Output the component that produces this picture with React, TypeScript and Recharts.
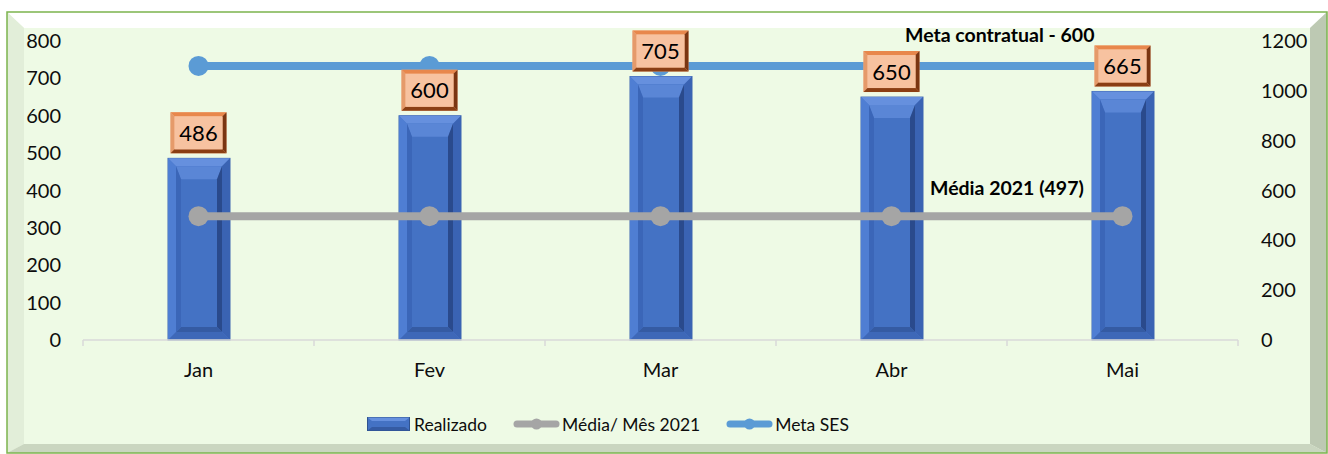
import React from "react";
import { Bar, ComposedChart, Line, LabelList, XAxis, YAxis } from "recharts";

const months = ["Jan", "Fev", "Mar", "Abr", "Mai"];
const realizado = [486, 600, 705, 650, 665];
const mediaMes2021 = [497, 497, 497, 497, 497];
const metaSes = [1100, 1100, 1100, 1100, 1100];
const leftTicks = [0, 100, 200, 300, 400, 500, 600, 700, 800];
const rightTicks = [0, 200, 400, 600, 800, 1000, 1200];

const data = months.map((m, i) => ({
  month: m,
  realizado: realizado[i],
  media: mediaMes2021[i],
  meta: metaSes[i],
}));

const FONT = "Lato, 'Open Sans', sans-serif";

function BevelBar(props: any) {
  const { x, y, width: w, height: h } = props;
  if (!h || h <= 0) return null;
  const b = 8;
  const ib = 5;
  const ix = x + b, iy = y + b, iw = w - 2 * b, ih = h - 2 * b;
  return (
    <g>
      <rect x={x} y={y} width={w} height={h} fill="#4A78CC" stroke="#3D64B0" strokeWidth={1} />
      <polygon points={`${x},${y} ${x + w},${y} ${x + w - b},${y + b} ${x + b},${y + b}`} fill="#6690DE" />
      <polygon points={`${x},${y} ${x + b},${y + b} ${x + b},${y + h - b} ${x},${y + h}`} fill="#4F7ED3" />
      <polygon points={`${x + w},${y} ${x + w},${y + h} ${x + w - b},${y + h - b} ${x + w - b},${y + b}`} fill="#3A63B3" />
      <polygon points={`${x},${y + h} ${x + w},${y + h} ${x + w - b},${y + h - b} ${x + b},${y + h - b}`} fill="#3E68B8" />
      <rect x={ix} y={iy} width={iw} height={ih} fill="#4472C4" />
      <polygon points={`${ix},${iy} ${ix + iw},${iy} ${ix + iw - ib},${iy + ib + 8} ${ix + ib},${iy + ib + 8}`} fill="#5A86D6" />
      <polygon points={`${ix + iw},${iy} ${ix + iw},${iy + ih} ${ix + iw - ib},${iy + ih - ib} ${ix + iw - ib},${iy + ib + 8}`} fill="#2A4A8C" />
      <polygon points={`${ix},${iy + ih} ${ix + iw},${iy + ih} ${ix + iw - ib},${iy + ih - ib} ${ix + ib},${iy + ih - ib}`} fill="#355BA3" />
      <polygon points={`${ix},${iy} ${ix + ib},${iy + ib + 8} ${ix + ib},${iy + ih - ib} ${ix},${iy + ih}`} fill="#3B66B8" />
    </g>
  );
}

function ValueBox(props: any) {
  const { x, y, value } = props;
  const w = 56, h = 41, b = 4;
  const bx = x - w / 2;
  const by = y - 5 - h;
  return (
    <g>
      <rect x={bx} y={by} width={w} height={h} fill="#F4B083" />
      <polygon points={`${bx},${by} ${bx + w},${by} ${bx + w - b},${by + b} ${bx + b},${by + b}`} fill="#E8874C" />
      <polygon points={`${bx},${by} ${bx + b},${by + b} ${bx + b},${by + h - b} ${bx},${by + h}`} fill="#E59A6A" />
      <polygon points={`${bx + w},${by} ${bx + w},${by + h} ${bx + w - b},${by + h - b} ${bx + w - b},${by + b}`} fill="#7A3512" />
      <polygon points={`${bx},${by + h} ${bx + w},${by + h} ${bx + w - b},${by + h - b} ${bx + b},${by + h - b}`} fill="#8A3E14" />
      <rect x={bx + b} y={by + b} width={w - 2 * b} height={h - 2 * b} fill="#F7C2A0" />
      <text x={x} y={by + h / 2 + 8} textAnchor="middle" fontFamily={FONT} fontSize={22} fill="#000">
        {value}
      </text>
    </g>
  );
}

function MonthTick(props: any) {
  const { x, y, payload, index } = props;
  const off = payload.offset || 0;
  const axisY = y - 20;
  return (
    <g>
      <line x1={x - off} y1={axisY} x2={x - off} y2={axisY + 6} stroke="#D9D9D9" strokeWidth={1.5} />
      {index === months.length - 1 && (
        <line x1={x + off} y1={axisY} x2={x + off} y2={axisY + 6} stroke="#D9D9D9" strokeWidth={1.5} />
      )}
      <text x={x} y={y + 17} textAnchor="middle" fontFamily={FONT} fontSize={20} fill="#0D0D0D">
        {payload.value}
      </text>
    </g>
  );
}

function LineSwatch({ color }: { color: string }) {
  return (
    <svg width={47} height={14} style={{ display: "block" }}>
      <line x1={4} y1={7} x2={43} y2={7} stroke={color} strokeWidth={7} strokeLinecap="round" />
      <circle cx={23.5} cy={7} r={5.5} fill={color} />
    </svg>
  );
}

export default function App() {
  const tickStyle = { fill: "#0D0D0D", fontSize: 20, fontFamily: FONT };
  return (
    <div>
      <svg width={1328} height={454} style={{ position: "absolute", left: 0, top: 0 }}>
        <rect x={7} y={12} width={1320} height={441} fill="#EEFAE5" />
        <polygon points="7,12 1327,12 1310,28 24,28" fill="#FFFFFF" />
        <polygon points="7,12 24,28 24,444 7,453" fill="#E2EED9" />
        <polygon points="1327,12 1327,453 1310,444 1310,28" fill="#BDC9B3" />
        <polygon points="7,453 1327,453 1310,444 24,444" fill="#CAD6C0" />
        <rect x={7} y={12} width={1320} height={441} fill="none" stroke="#7CB44E" strokeWidth={1.5} />
      </svg>
      <div style={{ position: "absolute", left: 0, top: 0 }}>
        <ComposedChart width={1328} height={454} data={data} margin={{ top: 41, right: 0, bottom: 84, left: 0 }}>
          <XAxis
            dataKey="month"
            height={30}
            stroke="#D9D9D9"
            strokeWidth={1.5}
            tickLine={false}
            tickSize={6}
            tickMargin={14}
            tick={<MonthTick />}
            interval={0}
          />
          <YAxis
            yAxisId="left"
            orientation="left"
            width={83}
            domain={[0, 800]}
            ticks={leftTicks}
            axisLine={false}
            tickLine={false}
            tickSize={0}
            tickMargin={22}
            tick={tickStyle}
          />
          <YAxis
            yAxisId="right"
            orientation="right"
            width={90}
            domain={[0, 1200]}
            ticks={rightTicks}
            axisLine={false}
            tickLine={false}
            tickSize={0}
            tickMargin={23}
            tick={tickStyle}
          />
          <Bar yAxisId="left" dataKey="realizado" barSize={62} shape={<BevelBar />} isAnimationActive={false} />
          <Line
            yAxisId="right"
            dataKey="media"
            stroke="#A5A5A5"
            strokeWidth={8}
            dot={{ r: 10, fill: "#A5A5A5", stroke: "none" }}
            activeDot={false}
            isAnimationActive={false}
          />
          <Line
            yAxisId="right"
            dataKey="meta"
            stroke="#5B9BD5"
            strokeWidth={8}
            dot={{ r: 10, fill: "#5B9BD5", stroke: "none" }}
            activeDot={false}
            isAnimationActive={false}
          />
          <Line
            yAxisId="left"
            dataKey="realizado"
            stroke="none"
            dot={false}
            activeDot={false}
            legendType="none"
            isAnimationActive={false}
          >
            <LabelList dataKey="realizado" content={<ValueBox />} />
          </Line>
        </ComposedChart>
      </div>
      <svg width={1328} height={454} style={{ position: "absolute", left: 0, top: 0, pointerEvents: "none" }}>
        <text x={905} y={42} fontFamily={FONT} fontWeight="bold" fontSize={19.5} fill="#000">
          Meta contratual - 600
        </text>
        <text x={930} y={195} fontFamily={FONT} fontWeight="bold" fontSize={19.5} fill="#000">
          Média 2021 (497)
        </text>
      </svg>
      <div
        style={{
          position: "absolute",
          left: 367,
          top: 410,
          height: 28,
          display: "flex",
          alignItems: "center",
          fontFamily: FONT,
          fontSize: 17.5,
          color: "#0D0D0D",
          whiteSpace: "nowrap",
        }}
      >
        <svg width={43} height={14} style={{ display: "block" }}>
          <rect x={0.5} y={0.5} width={42} height={13} fill="#4472C4" stroke="#2F528F" />
          <polygon points="0.5,0.5 42.5,0.5 38,4 5,4" fill="#6690DE" />
          <polygon points="0.5,13.5 42.5,13.5 38,10 5,10" fill="#355BA3" />
        </svg>
        <span style={{ marginLeft: 4 }}>Realizado</span>
        <span style={{ marginLeft: 26 }}>
          <LineSwatch color="#A5A5A5" />
        </span>
        <span style={{ marginLeft: 2 }}>Média/ Mês 2021</span>
        <span style={{ marginLeft: 26 }}>
          <LineSwatch color="#5B9BD5" />
        </span>
        <span style={{ marginLeft: 2 }}>Meta SES</span>
      </div>
    </div>
  );
}
